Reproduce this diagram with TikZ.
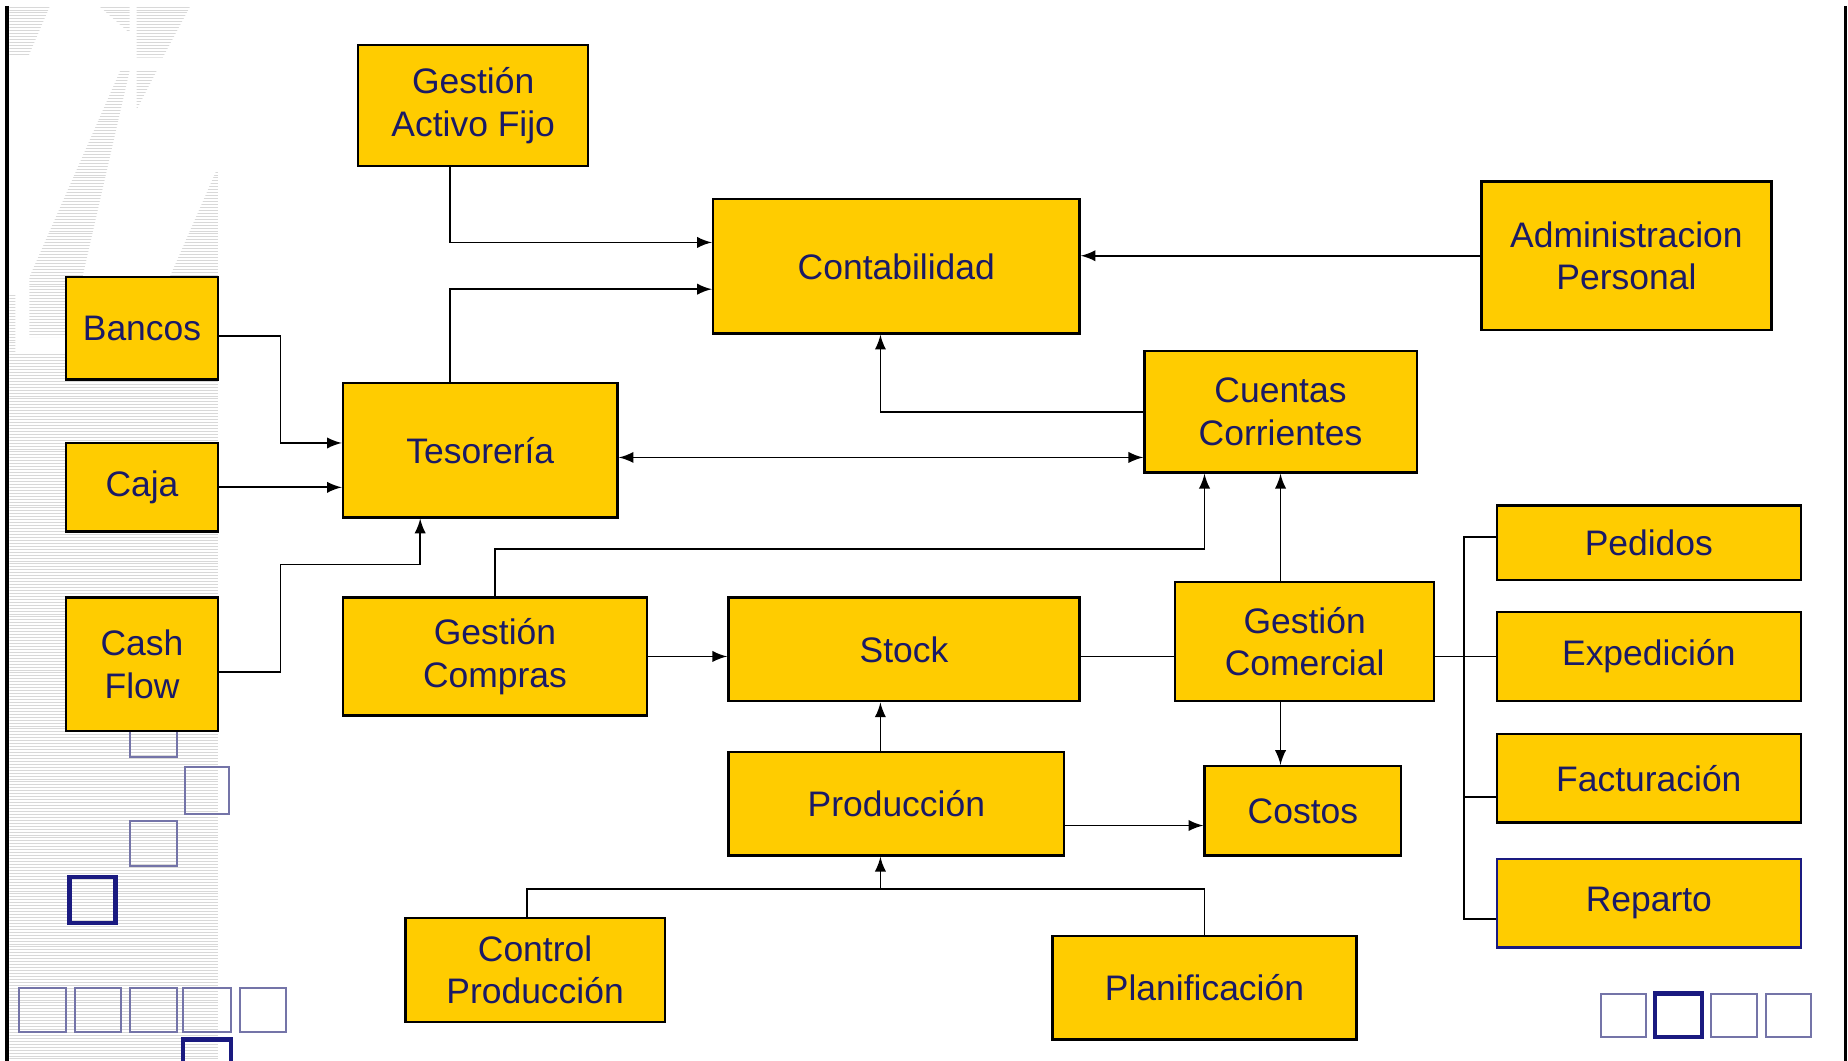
\documentclass[tikz,border=0pt]{standalone}
\usepackage{fontspec}
\setmainfont{Liberation Sans}
\usepackage{tikz}
\usetikzlibrary{arrows,calc,positioning}
\definecolor{boxfill}{HTML}{FFCC00}
\definecolor{txtblue}{HTML}{1A1A66}
\definecolor{sqlight}{HTML}{7474A8}
\definecolor{sqdark}{HTML}{1A1A80}
\definecolor{stripecol}{HTML}{D8D8D8}
\tikzset{
        block/.style = {draw, rectangle, fill=boxfill, text=txtblue,
            line width=0.7pt, inner sep=0pt, align=center,
            font=\fontsize{10.7}{12.8}\selectfont},
        arrow/.style = {draw, -latex, line width=0.55pt},
        biarrow/.style = {draw, latex-latex, line width=0.55pt},
        link/.style = {draw, line width=0.55pt},
        stripe/.style = {draw=stripecol, line width=0.3pt},
        sqthin/.style = {draw=sqlight, line width=0.6pt},
        sqbold/.style = {draw=sqdark, line width=1.3pt},
    }

\begin{document}
\begin{tikzpicture}[x=0.125mm,y=-0.125mm]
\useasboundingbox (0,0) rectangle (1568,900);

% striped background
\begin{scope}
\clip (8,6) -- (42,6) -- (24,48) -- (8,48) -- cycle
      (85,6) -- (110,6) -- (110,28) -- cycle
      (116,6) -- (161,6) -- (138,49) -- (116,49) -- cycle
      (116,60) -- (133,60) -- (116,93) -- cycle
      (102,60) -- (110,60) -- (70,235) -- (25,235) -- cycle
      (183,146) -- (185,146) -- (185,235) -- (144,235) -- cycle
      (25,235) rectangle (185,286)
      (8,250) rectangle (13,300)
      (8,300) rectangle (185,900);
\foreach \y in {6,8.5,...,900}
    \draw[stripe] (8,\y) -- (185,\y);
\end{scope}

% frame
\draw[line width=1.2pt] (6,5) -- (6,900);
\draw[line width=0.8pt] (1566,5) -- (1566,900);

% squares
\draw[sqthin] (110,602) rectangle (150,642);
\draw[sqthin] (157,651) rectangle (194,691);
\draw[sqthin] (110,697) rectangle (150,735);
\draw[sqbold] (59,744) rectangle (98,783);
\foreach \x/\w in {16/40,64/39,110/40,155/41,204/39}
    \draw[sqthin] (\x,838) rectangle ++(\w,38);
\draw[sqbold] (155,882) rectangle (196,922);
\draw[sqthin] (1358,843) rectangle (1397,880);
\draw[sqbold] (1404,843) rectangle (1444,880);
\draw[sqthin] (1452,843) rectangle (1491,880);
\draw[sqthin] (1498,843) rectangle (1537,880);

% boxes
\node[block, minimum width=24.375mm, minimum height=12.875mm] (gaf) at (401.5,89.5) {Gestión\\Activo Fijo};
\node[block, minimum width=38.875mm, minimum height=14.25mm] (cont) at (760.5,226) {Contabilidad};
\node[block, minimum width=30.75mm, minimum height=15.75mm] (adm) at (1380,217) {Administracion\\Personal};
\node[block, minimum width=16.125mm, minimum height=10.875mm] (bancos) at (120.5,278.5) {Bancos};
\node[block, minimum width=16.125mm, minimum height=9.375mm] (caja) at (120.5,413.5) {Caja};
\node[block, minimum width=16.125mm, minimum height=14.125mm] (cash) at (120.5,563.5) {Cash\\Flow};
\node[block, minimum width=29.125mm, minimum height=14.25mm] (tes) at (407.5,382) {Tesorería};
\node[block, minimum width=28.875mm, minimum height=12.875mm] (cc) at (1086.5,349.5) {Cuentas\\Corrientes};
\node[block, minimum width=32.25mm, minimum height=12.5mm] (gcomp) at (420,557) {Gestión\\Compras};
\node[block, minimum width=37.25mm, minimum height=11mm] (stock) at (767,551) {Stock};
\node[block, minimum width=27.5mm, minimum height=12.625mm] (gcom) at (1107,544.5) {Gestión\\Comercial};
\node[block, minimum width=35.625mm, minimum height=11mm] (prod) at (760.5,682) {Producción};
\node[block, minimum width=20.875mm, minimum height=9.5mm] (costos) at (1105.5,688) {Costos};
\node[block, minimum width=32.25mm, minimum height=7.875mm] (pedidos) at (1399,460.5) {Pedidos};
\node[block, minimum width=32.25mm, minimum height=9.5mm] (exped) at (1399,557) {Expedición};
\node[block, minimum width=32.25mm, minimum height=9.375mm] (fact) at (1399,660.5) {Facturación};
\node[block, draw=sqdark, minimum width=32.25mm, minimum height=9.375mm] (reparto) at (1399,766.5) {Reparto};
\node[block, minimum width=27.5mm, minimum height=11mm] (ctrl) at (454,823) {Control\\Producción};
\node[block, minimum width=32.25mm, minimum height=11mm] (plan) at (1022,838) {Planificación};

% bend points
\coordinate (lbus) at (238,479);
\coordinate (rbus) at (1242,0);
\coordinate (hGC) at (1022,466);
\coordinate (hP) at (0,754);
\coordinate (row) at (0,557);
\coordinate (tesB) at ($(tes.north west)!0.447!(tes.south west)$);
\coordinate (tesE) at ($(tes.north east)!0.553!(tes.south east)$);
\coordinate (prodN) at ($(prod.north west)!0.453!(prod.north east)$);
\coordinate (prodE) at ($(prod.north east)!0.705!(prod.south east)$);
\coordinate (pedP) at ($(pedidos.north west)!0.42!(pedidos.south west)$);
\coordinate (factP) at ($(fact.north west)!0.7!(fact.south west)$);
\coordinate (repP) at ($(reparto.north west)!0.67!(reparto.south west)$);

% connectors
\draw[arrow] ($(gaf.south west)!0.4!(gaf.south east)$) |- ($(cont.north west)!0.325!(cont.south west)$);
\draw[arrow] ($(tes.north west)!0.39!(tes.north east)$) |- ($(cont.north west)!0.667!(cont.south west)$);
\draw[arrow] (adm.west) -- (adm.west -| cont.east);
\draw[arrow] (cc.west) -| ($(cont.south west)!0.457!(cont.south east)$);
\draw[arrow] ($(bancos.north east)!0.575!(bancos.south east)$) -| (lbus |- tesB) -- (tesB);
\draw[arrow] (caja.east) -- (caja.east -| tes.west);
\draw[arrow] ($(cash.north east)!0.56!(cash.south east)$) -| (lbus) -| ($(tes.south west)!0.283!(tes.south east)$);
\draw[biarrow] (tesE) -- (tesE -| cc.west);
\draw[arrow] (gcomp.north) |- (hGC) -- (hGC |- cc.south);
\draw[arrow] (cc.south |- gcom.north) -- (cc.south);
\draw[arrow] (gcomp.east |- row) -- (stock.west |- row);
\draw[link] (stock.east |- row) -- (gcom.west |- row);
\draw[arrow] (prodN) -- (prodN |- stock.south);
\draw[arrow] (prodE) -- (prodE -| costos.west);
\draw[arrow] (cc.south |- gcom.south) -- (cc.south |- costos.north);
\draw[link] ($(ctrl.north west)!0.468!(ctrl.north east)$) |- (plan.north |- hP) -- (plan.north);
\draw[arrow] (prodN |- hP) -- (prodN |- prod.south);
\draw[link] (gcom.east |- exped.west) -- (exped.west);
\draw[link] (pedP) -| (rbus |- repP) -- (repP);
\draw[link] (rbus |- factP) -- (factP);

\end{tikzpicture}
\end{document}
